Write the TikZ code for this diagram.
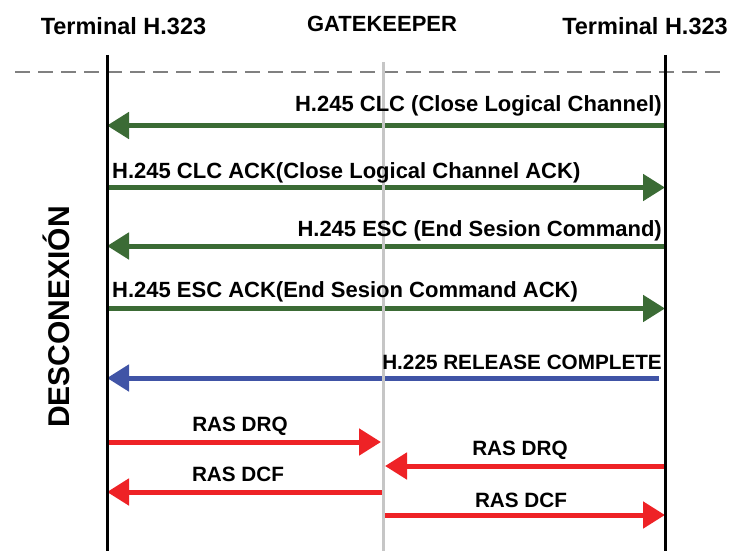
\documentclass[tikz,border=0pt]{standalone}
\usepackage{fontspec}
\setmainfont{Liberation Sans}
\usetikzlibrary{arrows.meta}

\definecolor{msggreen}{HTML}{3B6B35}
\definecolor{msgblue}{HTML}{4054A6}
\definecolor{msgred}{HTML}{EE2226}
\definecolor{gkgray}{HTML}{C6C6C6}
\definecolor{dashgray}{HTML}{808080}

\tikzset{
  lifeline/.style={line width=3pt, black},
  gkline/.style={line width=3pt, gkgray},
  sepline/.style={line width=1.5pt, dashgray, dash pattern=on 15pt off 8pt},
  msg/.style={line width=5pt, -{Triangle[length=22pt,width=26pt]}},
  header/.style={font=\fontsize{23.5}{27}\selectfont\bfseries, inner sep=0pt},
  gkheader/.style={font=\fontsize{22}{26}\selectfont\bfseries, inner sep=0pt},
  lbl/.style={font=\fontsize{22}{26}\selectfont\bfseries, inner sep=0pt},
  raslbl/.style={font=\fontsize{20.7}{24}\selectfont\bfseries, inner sep=0pt},
  phase/.style={font=\fontsize{30}{34}\selectfont\bfseries, inner sep=0pt, rotate=90}
}

\begin{document}
\begin{tikzpicture}[x=1pt, y=-1pt]
\useasboundingbox (0,0) rectangle (730,551);

% column headers
\node[header, anchor=base] (hA) at (123.5,35) {Terminal H.323};
\node[gkheader, anchor=base] (hG) at (382,32) {GATEKEEPER};
\node[header, anchor=base] (hB) at (645,35) {Terminal H.323};

% lifeline ends
\coordinate (Atop) at (107,55);
\coordinate (Abot) at (107,551);
\coordinate (Btop) at (665,55);
\coordinate (Bbot) at (665,551);
\coordinate (Gtop) at (383,62);
\coordinate (Gbot) at (383,551);

% separator
\coordinate (sepL) at (15,72);
\coordinate (sepR) at (722,72);
\draw[sepline] (sepL) -- (sepR);

% phase label
\node[phase] (ph) at (56,317) {DESCONEXIÓN};

% message end points
\coordinate (m1B) at (665,125.5); \coordinate (m1A) at (107,125.5);
\coordinate (m2A) at (107,187.5); \coordinate (m2B) at (665,187.5);
\coordinate (m3B) at (665,246);   \coordinate (m3A) at (107,246);
\coordinate (m4A) at (107,308.5); \coordinate (m4B) at (665,308.5);
\coordinate (m5B) at (659,378);   \coordinate (m5A) at (107,378);
\coordinate (m6A) at (107,442);   \coordinate (m6G) at (381,442);
\coordinate (m7B) at (665,466);   \coordinate (m7G) at (385,466);
\coordinate (m8G) at (383,492);   \coordinate (m8A) at (107,492);
\coordinate (m9G) at (383,515);   \coordinate (m9B) at (665,515);

% messages
\draw[msg, msggreen] (m1B) -- (m1A);
\draw[msg, msggreen] (m2A) -- (m2B);
\draw[msg, msggreen] (m3B) -- (m3A);
\draw[msg, msggreen] (m4A) -- (m4B);
\draw[msg, msgblue]  (m5B) -- (m5A);
\draw[msg, msgred]   (m6A) -- (m6G);
\draw[msg, msgred]   (m7B) -- (m7G);
\draw[msg, msgred]   (m8G) -- (m8A);
\draw[msg, msgred]   (m9G) -- (m9B);

% lifelines
\draw[gkline] (Gtop) -- (Gbot);
\draw[lifeline] (Atop) -- (Abot);
\draw[lifeline] (Btop) -- (Bbot);

% message labels
\node[lbl, anchor=base east] (l1) at (662,111.5) {H.245 CLC (Close Logical Channel)};
\node[lbl, anchor=base west] (l2) at (112,178) {H.245 CLC ACK(Close Logical Channel ACK)};
\node[lbl, anchor=base east] (l3) at (662,236) {H.245 ESC (End Sesion Command)};
\node[lbl, anchor=base west] (l4) at (112,297.5) {H.245 ESC ACK(End Sesion Command ACK)};
\node[raslbl, anchor=base east] (l5) at (662,369) {H.225 RELEASE COMPLETE};
\node[raslbl, anchor=base] (l6) at (240,431.5) {RAS DRQ};
\node[raslbl, anchor=base] (l7) at (520,455) {RAS DRQ};
\node[raslbl, anchor=base] (l8) at (238,481.5) {RAS DCF};
\node[raslbl, anchor=base] (l9) at (521,507) {RAS DCF};
\end{tikzpicture}
\end{document}
